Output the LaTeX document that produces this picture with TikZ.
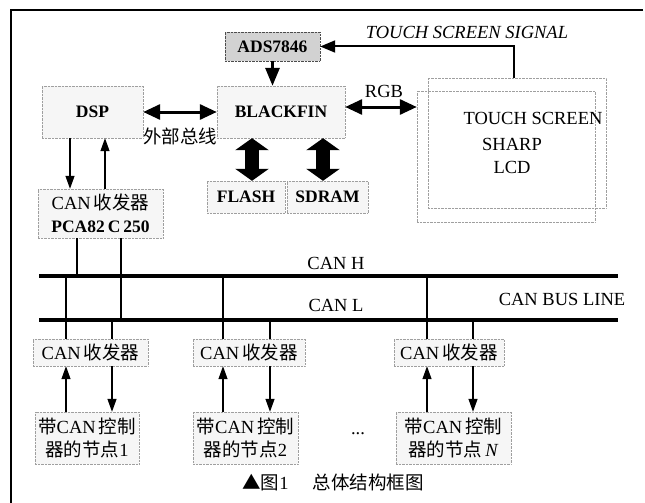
\documentclass[tikz,border=0pt]{standalone}
\usepackage{fontspec}
\setmainfont{Liberation Serif}
\newfontfamily\cjk{Noto Sans CJK SC}
\usetikzlibrary{arrows.meta}
\newcommand\zh[1]{{\cjk #1}}
\newcommand\bsz{\fontsize{17.5}{22}\selectfont\bfseries}
\begin{document}
\begin{tikzpicture}[x=1pt,y=-1pt,
  font=\fontsize{18.5}{22.5}\selectfont,
  box/.style={draw=gray!75, densely dotted, fill=gray!7, inner sep=0pt, align=center},
  thin/.style={line width=1.3pt, -{Triangle[length=13pt,width=9pt]}},
  wire/.style={line width=1.2pt},
  mid/.style={line width=3pt, {Triangle[length=17pt,width=15pt]}-{Triangle[length=17pt,width=15pt]}},
  fat/.style={line width=14pt, {Triangle[length=12pt,width=33pt]}-{Triangle[length=12pt,width=33pt]}},
  bus/.style={line width=4.5pt},
  lbl/.style={inner sep=0pt}]
\useasboundingbox (0,0) rectangle (645,503);
% frame
\draw[line width=1.5pt] (643,10) -- (11,10) -- (11,503);
% nodes
\node[box, draw=black!70, fill=gray!35, minimum width=95pt, minimum height=29pt] (ads) at (272.5,46.5) {\bsz ADS7846};
\node[box, minimum width=101pt, minimum height=52pt] (dsp) at (92.5,112) {\bsz DSP};
\node[box, minimum width=128pt, minimum height=52pt] (bf) at (281,112) {\bsz BLACKFIN};
\node[box, fill=white, minimum width=178pt, minimum height=130pt] (tsa) at (517,143) {};
\node[box, fill=none, minimum width=178pt, minimum height=131pt] (tsb) at (506,156.5) {};
\node[lbl] (tst) at (533,118) {TOUCH SCREEN};
\node[lbl] (sharp) at (512,144) {SHARP};
\node[lbl] (lcd) at (512,167) {LCD};
\node[box, minimum width=78pt, minimum height=32pt] (flash) at (246,197) {\bsz FLASH};
\node[box, minimum width=81pt, minimum height=32pt] (sdram) at (327.5,197) {\bsz SDRAM};
\node[box, minimum width=125pt, minimum height=49pt] (pca) at (100.5,213.5) {CAN\,\zh{收发器}\\{\bsz PCA82\,C\,250}};
\node[box, minimum width=115pt, minimum height=27pt] (t1) at (90.5,352.5) {CAN\,\zh{收发器}};
\node[box, minimum width=112pt, minimum height=27pt] (t2) at (249,352.5) {CAN\,\zh{收发器}};
\node[box, minimum width=110pt, minimum height=27pt] (t3) at (449,352.5) {CAN\,\zh{收发器}};
\node[box, minimum width=104pt, minimum height=52pt] (n1) at (87,438) {\zh{带}CAN\,\zh{控制}\\\zh{器的节点}1};
\node[box, minimum width=105pt, minimum height=52pt] (n2) at (245.5,438) {\zh{带}CAN\,\zh{控制}\\\zh{器的节点}2};
\node[box, minimum width=115pt, minimum height=52pt] (n3) at (453.5,438) {\zh{带}CAN\,\zh{控制}\\\zh{器的节点}\,\textit{N}};
\node[lbl] (dots) at (358,434) {...};
% bus
\coordinate (hl) at (39,276); \coordinate (hr) at (618,276);
\coordinate (ll) at (39,320); \coordinate (lr) at (618,320);
\draw[bus] (hl) -- (hr);
\draw[bus] (ll) -- (lr);
\node[lbl] (canh) at (336,263) {CAN H};
\node[lbl] (canl) at (336,305) {CAN L};
\node[lbl] (busl) at (562,299) {CAN BUS LINE};
% labels
\node[lbl] (ext) at (180,136) {\zh{外部总线}};
\node[lbl] (rgb) at (384,91) {RGB};
\node[lbl] (sig) at (467,32) {\itshape TOUCH SCREEN SIGNAL};
% arrows top
\draw[line width=3pt, -{Triangle[length=18pt,width=14pt]}] (ads.south) -- (bf.north -| ads.south);
\draw[mid] (dsp.east) -- (bf.west);
\draw[mid] (bf.east |- 0,107) -- (tsb.west |- 0,107);
\draw[line width=2pt, -{Triangle[length=15pt,width=12pt]}] (tsa.north -| 514,0) |- (ads.east);
\draw[fat] (bf.south -| 252,0) -- (flash.north -| 252,0);
\draw[fat] (bf.south -| 323,0) -- (sdram.north -| 323,0);
\draw[thin] (dsp.south -| 70,0) -- (pca.north -| 70,0);
\draw[thin] (pca.north -| 105,0) -- (dsp.south -| 105,0);
% bus connections
\draw[wire] (pca.south -| 77,0) -- (hl -| 77,0);
\draw[wire] (pca.south -| 121,0) -- (ll -| 121,0);
\draw[wire] (hl -| 66,0) -- (t1.north -| 66,0);
\draw[wire] (ll -| 112,0) -- (t1.north -| 112,0);
\draw[wire] (hl -| 223,0) -- (t2.north -| 223,0);
\draw[wire] (ll -| 270,0) -- (t2.north -| 270,0);
\draw[wire] (hl -| 427,0) -- (t3.north -| 427,0);
\draw[wire] (ll -| 473,0) -- (t3.north -| 473,0);
% node arrows
\draw[thin] (n1.north -| 66,0) -- (t1.south -| 66,0);
\draw[thin] (t1.south -| 112,0) -- (n1.north -| 112,0);
\draw[thin] (n2.north -| 223,0) -- (t2.south -| 223,0);
\draw[thin] (t2.south -| 270,0) -- (n2.north -| 270,0);
\draw[thin] (n3.north -| 427,0) -- (t3.south -| 427,0);
\draw[thin] (t3.south -| 473,0) -- (n3.north -| 473,0);
% caption
\node[lbl] (cap) at (333,482) {\zh{▲图}1\hspace{1.3em}\zh{总体结构框图}};
\end{tikzpicture}
\end{document}
